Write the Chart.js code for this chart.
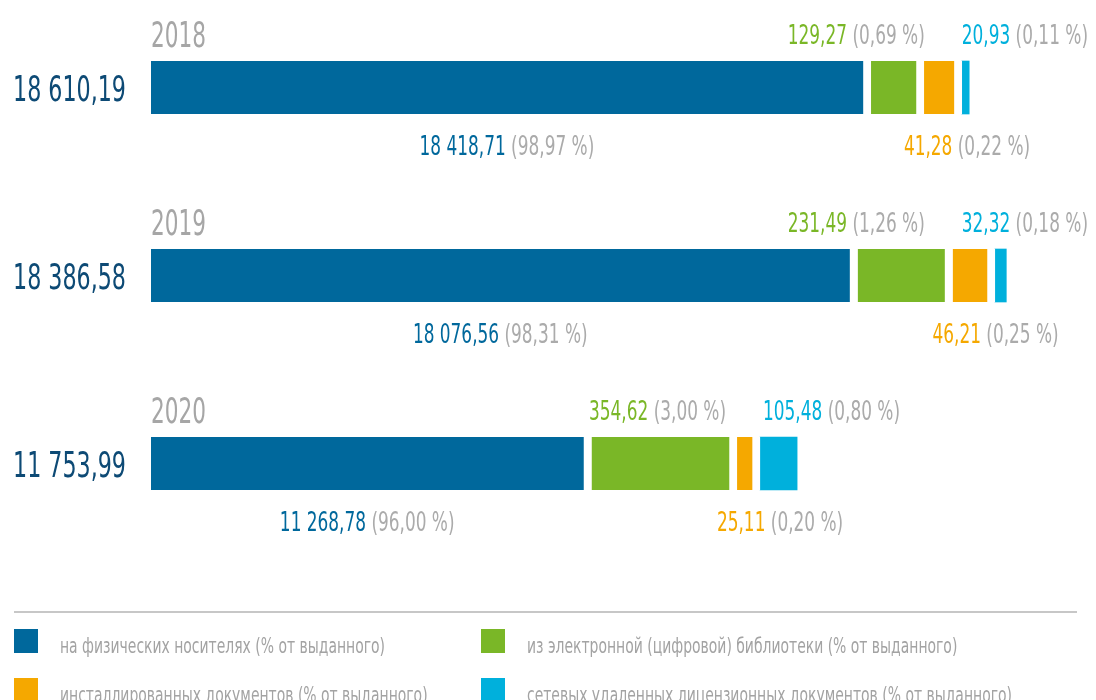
<!DOCTYPE html>
<html>
<head>
<meta charset="utf-8">
<script src="https://cdn.jsdelivr.net/npm/chart.js@4/dist/chart.umd.min.js"></script>
<style>
  html, body { margin: 0; padding: 0; background: #fff; }
  #wrap { width: 1096px; height: 700px; position: relative; }
</style>
</head>
<body>
<div id="wrap"><canvas id="myChart"></canvas></div>
<script>
const years = ["2018", "2019", "2020"];
const totals = [18610.19, 18386.58, 11753.99];

const physical = [18418.71, 18076.56, 11268.78];
const physicalPct = [98.97, 98.31, 96.0];
const digital = [129.27, 231.49, 354.62];
const digitalPct = [0.69, 1.26, 3.0];
const installed = [41.28, 46.21, 25.11];
const installedPct = [0.22, 0.25, 0.2];
const network = [20.93, 32.32, 105.48];
const networkPct = [0.11, 0.18, 0.8];

const seriesNames = [
  "на физических носителях (% от выданного)",
  "из электронной (цифровой) библиотеки (% от выданного)",
  "инсталлированных документов (% от выданного)",
  "сетевых удаленных лицензионных документов (% от выданного)",
];
const seriesColors = ["#00689c", "#7ab727", "#f5a800", "#00b0dc"];
// the small shares are drawn enlarged, like in the original infographic
const drawScale = [1, 10.5, 23.5, 9];

const seriesValues = [physical, digital, installed, network];
const seriesPct = [physicalPct, digitalPct, installedPct, networkPct];

const FONT = "'Liberation Sans Narrow', 'DejaVu Sans Condensed', 'Roboto Condensed', sans-serif";
const GAP = 8;
const GREY = "#ababab";

// text styles: size plus a sample and the width it has in the original (condensed font)
const styles = {
  year: { size: 36, sample: "2018", width: 55 },
  total: { size: 36, sample: "18 610,19", width: 113 },
  label: { size: 27, sample: "129,27 (0,69 %)", width: 137 },
  legend: { size: 21, sample: "на физических носителях (% от выданного)", width: 325 },
};

function fmtNum(v) {
  const parts = v.toFixed(2).split(".");
  return parts[0].replace(/\B(?=(\d{3})+(?!\d))/g, " ") + "," + parts[1];
}
function fmtPct(p) {
  return "(" + p.toFixed(2).replace(".", ",") + " %)";
}

function squeeze(ctx, st) {
  if (!st.sx) {
    ctx.save();
    ctx.font = st.size + "px " + FONT;
    st.sx = st.width / ctx.measureText(st.sample).width;
    ctx.restore();
  }
  return st.sx;
}
function textWidth(ctx, text, st) {
  const sx = squeeze(ctx, st);
  ctx.save();
  ctx.font = st.size + "px " + FONT;
  const w = ctx.measureText(text).width * sx;
  ctx.restore();
  return w;
}
function condensed(ctx, text, x, y, color, st) {
  const sx = squeeze(ctx, st);
  ctx.save();
  ctx.font = st.size + "px " + FONT;
  ctx.fillStyle = color;
  ctx.textBaseline = "alphabetic";
  ctx.textAlign = "left";
  ctx.translate(x, y);
  ctx.scale(sx, 1);
  ctx.fillText(text, 0, 0);
  ctx.restore();
}

// value in series colour + share in grey
function pairWidth(ctx, a, b) {
  return textWidth(ctx, a + " ", styles.label) + textWidth(ctx, b, styles.label);
}
function drawPair(ctx, a, b, x, y, color) {
  condensed(ctx, a, x, y, color, styles.label);
  const w = textWidth(ctx, a + " ", styles.label);
  condensed(ctx, b, x + w, y, GREY, styles.label);
}

const labelsPlugin = {
  id: "barLabels",
  afterDatasetsDraw(chart) {
    const ctx = chart.ctx;
    years.forEach((year, i) => {
      const seg = chart.data.datasets.map((ds, d) => {
        const el = chart.getDatasetMeta(d).data[i];
        const gap = d < 3 ? GAP : 0;
        return {
          left: el.base,
          right: el.x - gap,
          top: el.y - el.height / 2,
          bottom: el.y + el.height / 2,
          mid: el.y,
        };
      });
      const top = seg[0].top;
      const bottom = seg[0].bottom;

      // year above and total on the left
      condensed(ctx, year, seg[0].left, top - 14, "#a6a6a6", styles.year);
      const tot = fmtNum(totals[i]);
      const tw = textWidth(ctx, tot, styles.total);
      condensed(ctx, tot, 126 - tw, seg[0].mid + 13, "#0d4a75", styles.total);

      const lbl = (d) => [fmtNum(seriesValues[d][i]), fmtPct(seriesPct[d][i])];

      // physical: below, centred
      let [a, b] = lbl(0);
      let w = pairWidth(ctx, a, b);
      drawPair(ctx, a, b, (seg[0].left + seg[0].right) / 2 - w / 2, bottom + 41, seriesColors[0]);

      // network: above, from the segment start, kept inside the canvas
      [a, b] = lbl(3);
      w = pairWidth(ctx, a, b);
      const nx = Math.min(seg[3].left + 3, 1088 - w);
      drawPair(ctx, a, b, nx, top - 17, seriesColors[3]);

      // digital: above, centred but clear of the network label
      [a, b] = lbl(1);
      w = pairWidth(ctx, a, b);
      const gx = Math.min((seg[1].left + seg[1].right) / 2 + w / 2, nx - 37) - w;
      drawPair(ctx, a, b, gx, top - 17, seriesColors[1]);

      // installed: below
      [a, b] = lbl(2);
      drawPair(ctx, a, b, seg[2].left - 20, bottom + 41, seriesColors[2]);
    });
  },
  afterDraw(chart) {
    const ctx = chart.ctx;
    ctx.save();
    ctx.strokeStyle = "#b5b5b5";
    ctx.lineWidth = 1.5;
    ctx.beginPath();
    ctx.moveTo(14, 612);
    ctx.lineTo(1077, 612);
    ctx.stroke();
    ctx.restore();
    const cols = [14, 481];
    const rows = [629, 678];
    seriesNames.forEach((name, d) => {
      const x = cols[d % 2];
      const y = rows[Math.floor(d / 2)];
      ctx.fillStyle = seriesColors[d];
      ctx.fillRect(x, y, 24, 24);
      condensed(ctx, name, x + 46, y + 24, "#a3a3a3", styles.legend);
    });
  },
};

new Chart("myChart", {
  type: "bar",
  data: {
    labels: years,
    datasets: seriesValues.map((vals, d) => ({
      label: seriesNames[d],
      data: vals.map((v) => v * drawScale[d]),
      backgroundColor: seriesColors[d],
      borderColor: "#ffffff",
      borderWidth: { top: 0, bottom: 0, left: 0, right: d < 3 ? GAP : 0 },
      borderSkipped: false,
      barThickness: 53,
      clip: false,
    })),
  },
  options: {
    indexAxis: "y",
    responsive: true,
    maintainAspectRatio: false,
    animation: false,
    layout: {
      padding: { left: 151, right: 7, top: 87.5, bottom: 236.5 },
    },
    scales: {
      x: { stacked: true, min: 0, max: 24000, display: false },
      y: { stacked: true, offset: false, display: false },
    },
    plugins: {
      legend: { display: false },
      tooltip: { enabled: false },
    },
  },
  plugins: [labelsPlugin],
});
</script>
</body>
</html>
